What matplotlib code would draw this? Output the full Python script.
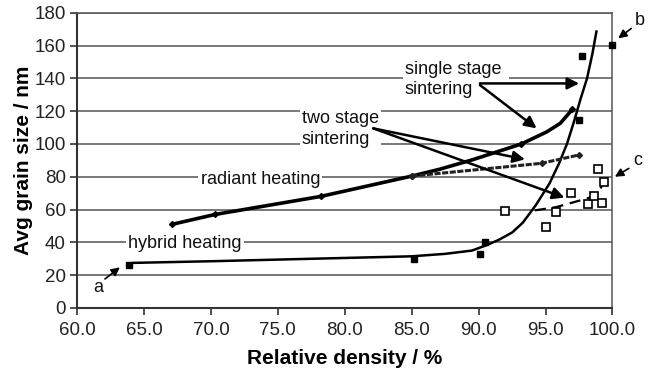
import matplotlib
matplotlib.use("Agg")
import matplotlib.pyplot as plt

plt.rcParams['font.family'] = ['Liberation Sans', 'DejaVu Sans']

# Hybrid heating, single stage sintering (filled squares) and its trend curve
hybrid_single_density = [63.9, 85.2, 90.1, 90.5, 97.5, 97.7, 100.0]
hybrid_single_size = [26, 30, 33, 40, 114.5, 153.5, 160.5]
hybrid_fit_density = [64.2, 70.0, 75.0, 80.0, 85.0, 87.5, 89.5, 90.5, 91.5, 92.5,
                      93.3, 94.3, 95.3, 96.0, 96.6, 97.1, 97.6, 98.1, 98.5, 98.8]
hybrid_fit_size = [27.5, 28.5, 29.5, 30.5, 31.5, 33.0, 35.0, 38.0, 41.5, 46.0,
                   52.0, 63.0, 76.0, 88.0, 100.0, 113.0, 127.0, 140.0, 155.0, 168.5]

# Hybrid heating, two stage sintering (open squares) and its trend line
hybrid_two_density = [92.0, 95.0, 95.8, 96.9, 98.2, 98.6, 98.9, 99.2, 99.4]
hybrid_two_size = [59.3, 49.2, 58.5, 70.4, 63.6, 68.4, 84.5, 64.2, 76.6]
hybrid_two_fit_density = [94.2, 95.8, 98.2, 98.9, 99.4]
hybrid_two_fit_size = [59.5, 61.5, 67.0, 70.0, 77.0]

# Radiant heating, single stage sintering: measured points and smoothed line
radiant_single_density = [67.1, 70.3, 78.2, 85.0, 93.2, 97.0]
radiant_single_size = [51, 57, 68, 80.4, 100.0, 121]
radiant_single_line_density = [67.1, 70.3, 78.2, 85.0, 87.1, 89.6, 93.2, 95.1, 96.1, 97.0]
radiant_single_line_size = [51, 57, 68, 80.4, 84.6, 90.5, 100.0, 107.4, 112.6, 121]

# Radiant heating, two stage sintering
radiant_two_density = [85.0, 94.7, 97.5]
radiant_two_size = [80.4, 88.2, 93.3]

x_ticks = [60.0, 65.0, 70.0, 75.0, 80.0, 85.0, 90.0, 95.0, 100.0]
y_ticks = [0, 20, 40, 60, 80, 100, 120, 140, 160, 180]

fig = plt.figure(figsize=(6.6, 3.74), dpi=100)
ax = fig.add_axes([0.1167, 0.1765, 0.8113, 0.7895])

ax.set_xlim(60, 100)
ax.set_ylim(0, 180)
ax.set_xticks(x_ticks)
ax.set_xticklabels([f"{v:.1f}" for v in x_ticks])
ax.set_yticks(y_ticks)
ax.tick_params(axis='both', labelsize=13.5, length=5, width=1.2, color='#333333',
               labelcolor='#222222', direction='out')
ax.tick_params(axis='x', pad=5)
ax.tick_params(axis='y', pad=3)

ax.grid(axis='y', color='#555555', lw=1.1, zorder=0)
ax.set_axisbelow(True)
for side in ['left', 'bottom']:
    ax.spines[side].set_color('#333333')
    ax.spines[side].set_linewidth(1.5)
ax.spines['top'].set_color('#555555')
ax.spines['top'].set_linewidth(1.1)
ax.spines['right'].set_color('#555555')
ax.spines['right'].set_linewidth(1.1)

ax.set_xlabel('Relative density / %', fontsize=15, fontweight='bold', labelpad=7)
ax.set_ylabel('Avg grain size / nm', fontsize=15, fontweight='bold', labelpad=1)

# trend curves and series
ax.plot(hybrid_fit_density, hybrid_fit_size, color='black', lw=1.8, zorder=3)
ax.plot(hybrid_single_density, hybrid_single_size, ls='none', marker='s', ms=5,
        mfc='black', mec='black', zorder=4, clip_on=False)
ax.plot(hybrid_two_fit_density, hybrid_two_fit_size, color='black', lw=1.6,
        ls=(0, (5, 3)), zorder=3)
ax.plot(hybrid_two_density, hybrid_two_size, ls='none', marker='s', ms=5.5,
        mfc='white', mec='black', mew=1.2, zorder=4)
ax.plot(radiant_single_line_density, radiant_single_line_size, color='black', lw=2.6,
        zorder=3, solid_capstyle='round')
ax.plot(radiant_single_density, radiant_single_size, ls='none', marker='D', ms=3,
        mfc='black', mec='black', zorder=3)
ax.plot(radiant_two_density, radiant_two_size, color='#222222', lw=2.2,
        ls=(0, (2, 0.5)), marker='D', ms=3, mfc='#222222', mec='#222222', zorder=3)

# text labels
box = dict(facecolor='white', edgecolor='none', pad=1.5)
tkw = dict(fontsize=13, color='#111111', zorder=5)
ax.text(68.07, 39.5, 'hybrid heating', ha='center', va='center', bbox=box, **tkw)
ax.text(73.7, 78.3, 'radiant heating', ha='center', va='center', bbox=box, **tkw)
ax.text(76.8, 109.3, 'two stage\nsintering', ha='left', va='center', bbox=box,
        linespacing=1.3, **tkw)
ax.text(84.5, 139.3, 'single stage \nsintering', ha='left', va='center', bbox=box,
        linespacing=1.3, **tkw)
ax.text(61.6, 12.5, 'a', ha='center', va='center', **tkw)
ax.text(102.05, 175.5, 'b', ha='center', va='center', clip_on=False, **tkw)
ax.text(101.9, 90.2, 'c', ha='center', va='center', clip_on=False, **tkw)

def arrow(start, end, lw=1.8, hl=0.7, hw=0.35):
    ax.annotate('', xy=end, xytext=start, annotation_clip=False,
                arrowprops=dict(arrowstyle=f'-|>,head_length={hl},head_width={hw}',
                                lw=lw, color='black', shrinkA=0, shrinkB=0,
                                mutation_scale=10), zorder=6)

arrow((90.1, 136.9), (97.51, 136.9))
arrow((90.1, 135.9), (94.33, 109.5))
arrow((82.13, 109.5), (93.46, 90.6))
arrow((82.13, 109.5), (96.41, 67.3))
arrow((62.09, 17.7), (63.2, 24.8), lw=1.2, hl=0.5, hw=0.25)
arrow((101.4, 170.4), (100.43, 164.4), lw=1.2, hl=0.5, hw=0.25)
arrow((101.22, 85.1), (100.18, 80.0), lw=1.2, hl=0.5, hw=0.25)

fig.savefig('out.png', dpi=100)
